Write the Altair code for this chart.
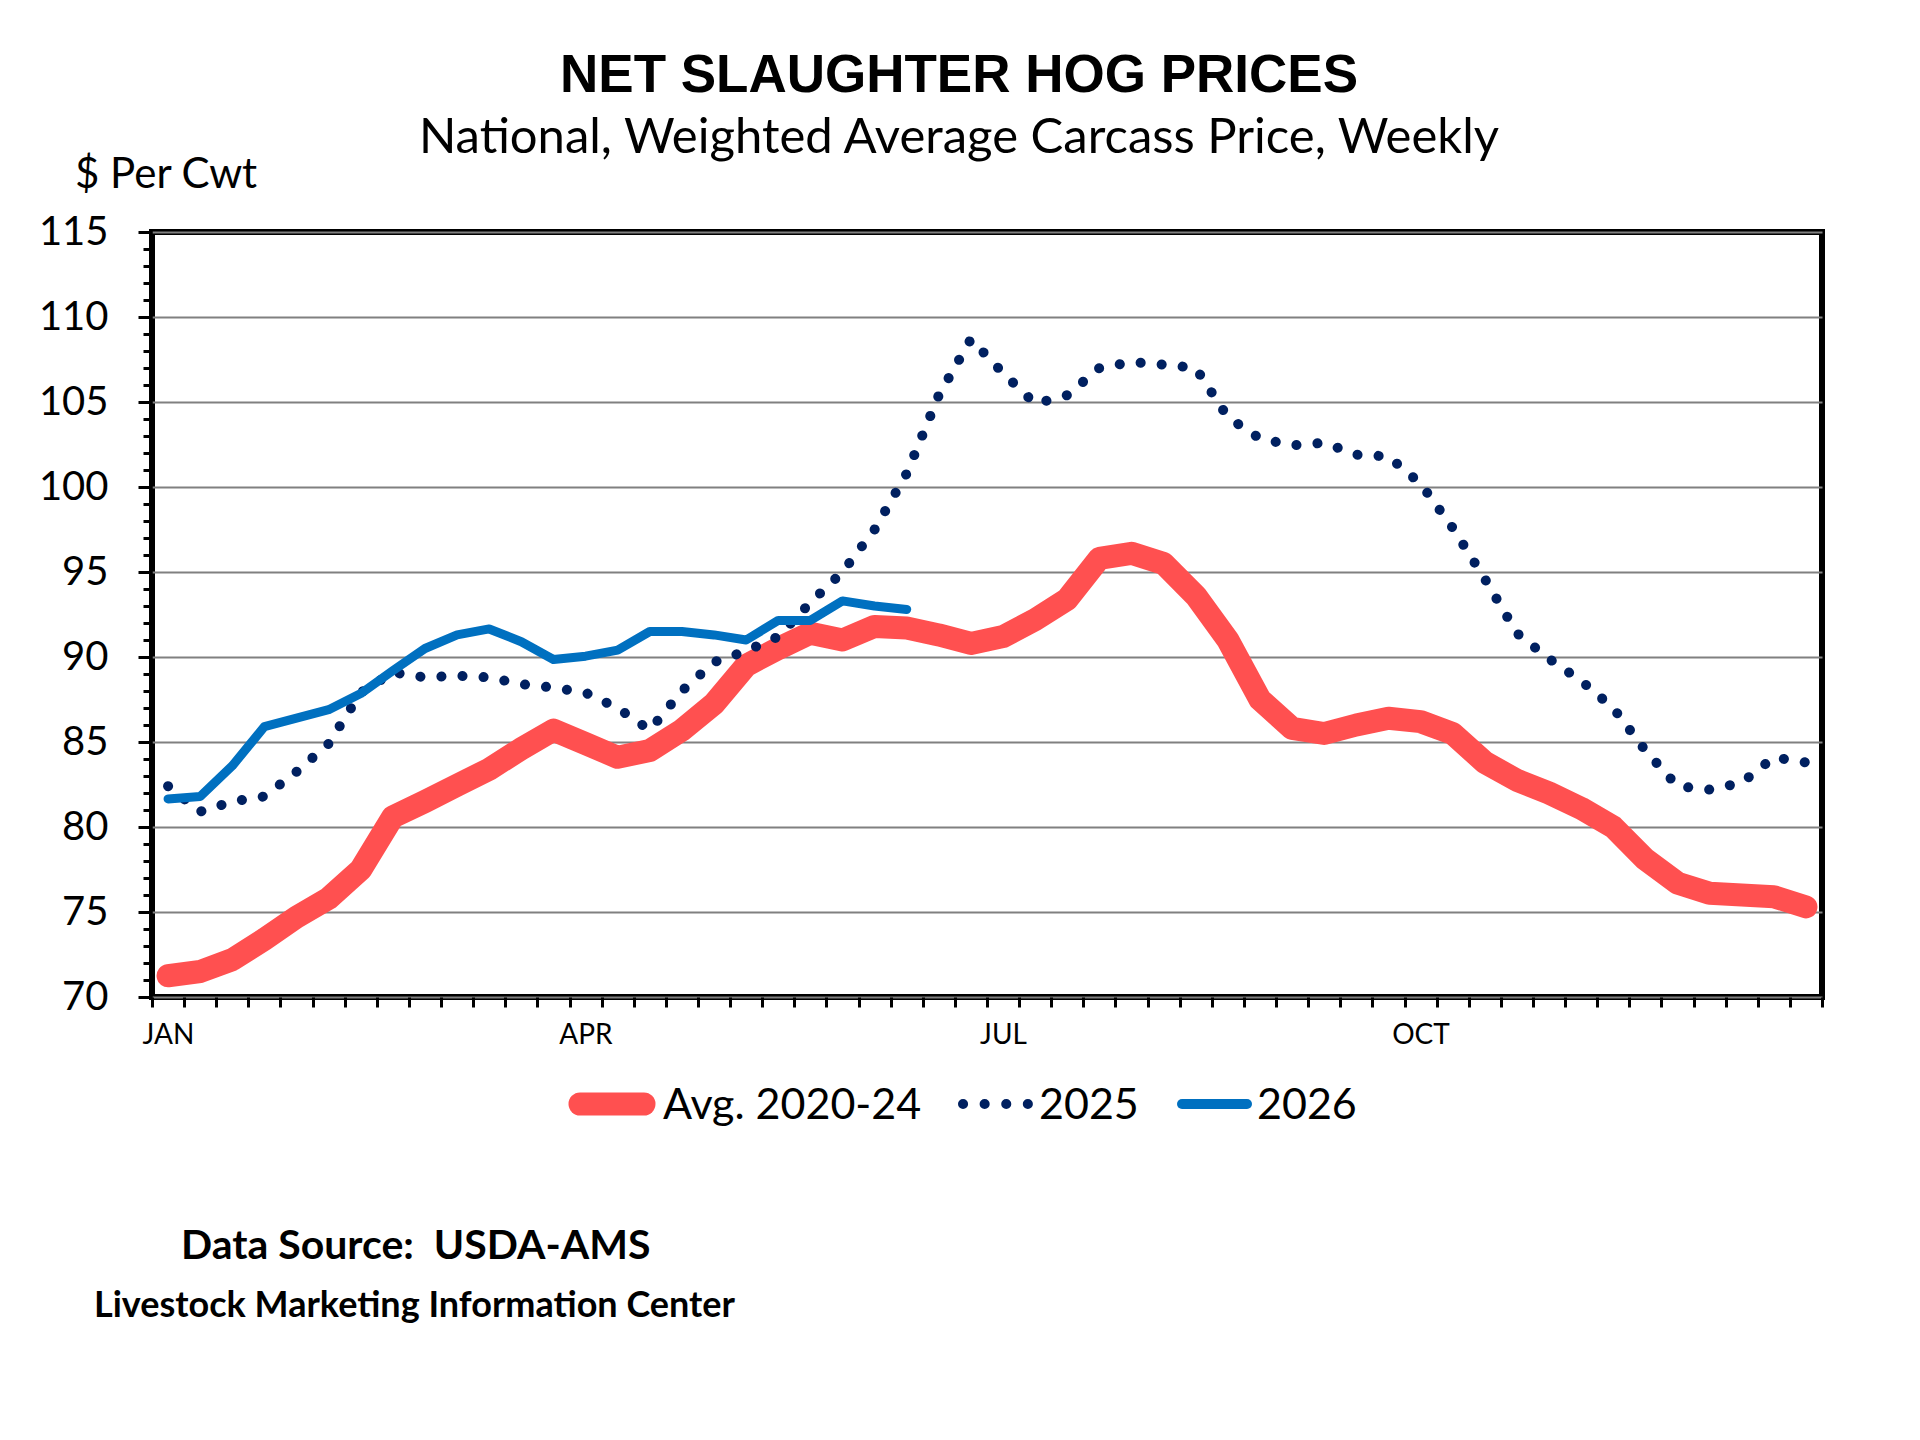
import altair as alt
import pandas as pd

weeks = list(range(1, 53))

avg_2020_24 = [71.25, 71.5, 72.2, 73.4, 74.7, 75.8, 77.5, 80.6, 81.5, 82.45,
               83.4, 84.6, 85.7, 84.9, 84.1, 84.5, 85.7, 87.25, 89.5, 90.5,
               91.4, 91.0, 91.8, 91.7, 91.3, 90.8, 91.2, 92.2, 93.4, 95.8,
               96.1, 95.5, 93.6, 91.0, 87.5, 85.8, 85.5, 86.0, 86.4, 86.2,
               85.5, 83.8, 82.75, 82.0, 81.1, 80.0, 78.1, 76.7, 76.1, 76.0,
               75.9, 75.3]

y2025 = [82.4, 80.9, 81.5, 81.8, 83.25, 84.9, 87.9, 89.1, 88.8, 88.9,
         88.8, 88.4, 88.2, 87.9, 87.0, 85.7, 88.0, 89.7, 90.35, 91.2,
         93.2, 95.0, 97.5, 100.8, 105.4, 108.7, 106.7, 104.9, 105.4, 107.0,
         107.35, 107.2, 107.0, 104.1, 102.85, 102.45, 102.6, 101.9, 101.8, 100.2,
         97.6, 94.6, 91.4, 89.9, 88.6, 87.0, 84.5, 82.4, 82.2, 82.6,
         84.1, 83.8]

y2026 = [81.65, 81.8, 83.6, 85.9, 86.4, 86.9, 87.85, 89.2, 90.5, 91.3,
         91.65, 90.9, 89.85, 90.05, 90.4, 91.5, 91.5, 91.3, 91.0, 92.15,
         92.15, 93.3, 93.0, 92.8]

series_names = ["Avg. 2020-24", "2025", "2026"]
month_labels = ["JAN", "APR", "JUL", "OCT"]
month_weeks = [1, 14, 27, 40]

rows = []
for name, vals in zip(series_names, [avg_2020_24, y2025, y2026]):
    for w, v in zip(weeks, vals):
        rows.append({"week": w, "value": v, "series": name})
df = pd.DataFrame(rows)

W, H = 1670, 765
FONT = "Lato"

label_expr = " : ".join(
    f"datum.value == {w - 0.5} ? '{m}'" for m, w in zip(month_labels, month_weeks)
) + " : ''"

x_axis = alt.Axis(
    values=[i + 0.5 for i in range(0, 53)],
    labelExpr=label_expr,
    labelOffset=16,
    labelAngle=0,
    labelFont=FONT,
    labelFontSize=28,
    labelColor="black",
    labelPadding=14,
    labelOverlap=False,
    labelFlush=False,
    tickSize=10,
    tickWidth=3,
    tickColor="black",
    domain=False,
    grid=False,
    title=None,
)

y_axis = alt.Axis(
    values=list(range(70, 116)),
    labelExpr="datum.value % 5 === 0 ? datum.label : ''",
    labelFont=FONT,
    labelFontSize=40,
    labelColor="black",
    labelPadding=30,
    labelOverlap=False,
    tickSize={"condition": {"test": "datum.value % 5 === 0", "value": 14}, "value": 9},
    tickWidth=3,
    tickColor="black",
    domain=False,
    grid=True,
    gridColor="#808080",
    gridWidth=2,
    gridOpacity={"condition": {"test": "datum.value % 5 === 0", "value": 1}, "value": 0},
    title=None,
)

xs = alt.Scale(domain=[0.5, 52.5], nice=False, zero=False)
ys = alt.Scale(domain=[70, 115], nice=False, zero=False)

base = alt.Chart(df).encode(
    x=alt.X("week:Q", scale=xs, axis=x_axis),
    y=alt.Y("value:Q", scale=ys, axis=y_axis),
)

red = base.transform_filter(alt.datum.series == series_names[0]).mark_line(
    color="#FF5050", strokeWidth=23, strokeCap="round", strokeJoin="round")
dots = base.transform_filter(alt.datum.series == series_names[1]).mark_line(
    color="#002060", strokeWidth=10, strokeDash=[0.1, 21], strokeCap="round", strokeJoin="round")
blue = base.transform_filter(alt.datum.series == series_names[2]).mark_line(
    color="#0070C0", strokeWidth=9, strokeCap="round", strokeJoin="round")

one = alt.Data(values=[{"k": 1}])


def txt(text, x, y, size, weight="normal", font=FONT, align="left", color="black"):
    return alt.Chart(one).mark_text(
        text=text, align=align, baseline="alphabetic", font=font,
        fontSize=size, fontWeight=weight, color=color,
    ).encode(x=alt.value(x), y=alt.value(y))


def leg_line(x1, x2, y, color, width, dash=None):
    kw = dict(color=color, strokeWidth=width, strokeCap="round")
    if dash is not None:
        kw["strokeDash"] = dash
    return alt.Chart(one).mark_rule(**kw).encode(
        x=alt.value(x1), x2=alt.value(x2), y=alt.value(y))


title = txt("NET SLAUGHTER HOG PRICES", 807, -140, 53, "bold", "Liberation Sans", "center")
subtitle = txt("National, Weighted Average Carcass Price, Weekly", 807, -79, 49, align="center")
ylab = txt("$ Per Cwt", -77, -44, 42)

leg = [
    leg_line(428, 492, 872, "#FF5050", 23),
    txt(series_names[0], 511, 887, 43),
    leg_line(811, 876, 872, "#002060", 10, [0.1, 21.5]),
    txt(series_names[1], 887, 887, 43),
    leg_line(1030, 1095, 872, "#0070C0", 10),
    txt(series_names[2], 1105, 887, 43),
]

foot1 = txt("Data Source:\u00a0 USDA-AMS", 29, 1027, 41, "bold")
foot2 = txt("Livestock Marketing Information Center", -58, 1085, 36, "bold")

chart = alt.layer(
    red, dots, blue, title, subtitle, ylab, *leg, foot1, foot2
).properties(
    width=W, height=H,
    autosize=alt.AutoSizeParams(type="none"),
    padding={"left": 144, "top": 224, "right": 90, "bottom": 435},
    background="white",
).configure_view(stroke="black", strokeWidth=6)

chart.save("out.html", embed_options={"renderer": "svg", "actions": False})
